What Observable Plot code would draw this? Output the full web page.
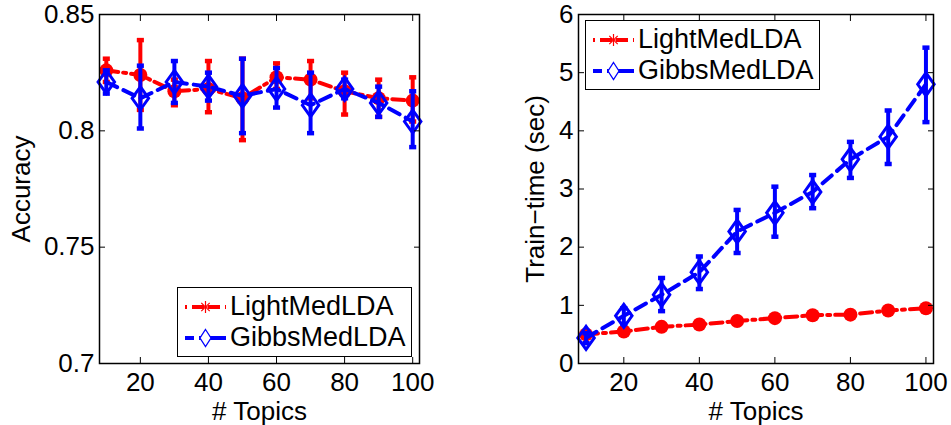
<!DOCTYPE html>
<html><head><meta charset="utf-8">
<script src="https://cdn.jsdelivr.net/npm/d3@7"></script>
<script src="https://cdn.jsdelivr.net/npm/@observablehq/plot@0.6"></script>
<style>
body{margin:0;background:#fff;font-family:"Liberation Sans",Arial,sans-serif;}
#wrap{position:relative;width:951px;height:425px;overflow:hidden;background:#fff;}
.panel{position:absolute;top:0;}
.legend{position:absolute;border:1.5px solid #000;background:#fff;box-sizing:border-box;font-size:27px;color:#000;padding-top:3px;}
.row{display:flex;align-items:center;height:31px;}
.row svg{margin-left:7px;margin-right:4px;flex:none;}
</style>
</head><body>
<div id="wrap"></div>
<script>
const topics = [10,20,30,40,50,60,70,80,90,100];
const xTicks = [20,40,60,80,100];
const accTicks = [0.7,0.75,0.8,0.85];
const timeTicks = [0,1,2,3,4,5,6];
const seriesNames = ["LightMedLDA","GibbsMedLDA"];
const seriesColors = ["#ff0000","#0000ff"];

const accLight   = [0.826,0.824,0.817,0.818,0.814,0.823,0.822,0.817,0.814,0.813];
const accLightLo = [0.821,0.809,0.811,0.808,0.796,0.818,0.814,0.807,0.806,0.804];
const accLightHi = [0.831,0.839,0.822,0.830,0.831,0.829,0.830,0.825,0.822,0.823];
const accGibbs   = [0.821,0.814,0.821,0.819,0.815,0.818,0.811,0.818,0.812,0.804];
const accGibbsLo = [0.816,0.801,0.812,0.813,0.799,0.810,0.799,0.814,0.806,0.793];
const accGibbsHi = [0.826,0.828,0.830,0.825,0.831,0.827,0.825,0.822,0.819,0.817];

const timeLight   = [0.50,0.55,0.63,0.67,0.73,0.78,0.83,0.84,0.91,0.95];
const timeLightLo = [0.48,0.53,0.61,0.65,0.71,0.76,0.81,0.82,0.89,0.93];
const timeLightHi = [0.52,0.57,0.65,0.69,0.75,0.80,0.85,0.86,0.93,0.97];
const timeGibbs   = [0.44,0.82,1.18,1.57,2.27,2.59,2.95,3.51,3.90,4.80];
const timeGibbsLo = [0.35,0.68,0.90,1.28,1.90,2.18,2.67,3.19,3.43,4.15];
const timeGibbsHi = [0.52,0.95,1.47,1.84,2.64,3.04,3.24,3.81,4.35,5.43];

const FONT = '"Liberation Sans", Arial, sans-serif';

const capSym = {draw(ctx, size){ const w = Math.sqrt(size); ctx.moveTo(-w,0); ctx.lineTo(w,0); }};
const diamondSym = {draw(ctx, size){ const s = Math.sqrt(size); const hw = s*0.8, hh = s*1.12;
  ctx.moveTo(0,-hh); ctx.lineTo(hw,0); ctx.lineTo(0,hh); ctx.lineTo(-hw,0); ctx.closePath(); }};

function rows(y, lo, hi){ return topics.map((t,i)=>({x:t, y:y[i], lo:lo[i], hi:hi[i]})); }

function seriesMarks(data, color, kind){
  const marks = [];
  marks.push(Plot.ruleX(data, {x:"x", y1:"lo", y2:"hi", stroke:color, strokeWidth:4}));
  marks.push(Plot.dot(data, {x:"x", y:"lo", symbol:capSym, r:2, stroke:color, strokeWidth:4.5}));
  marks.push(Plot.dot(data, {x:"x", y:"hi", symbol:capSym, r:2, stroke:color, strokeWidth:4.5}));
  if (kind === "light") {
    marks.push(Plot.line(data, {x:"x", y:"y", stroke:color, strokeWidth:4, strokeDasharray:"12,5,3,5"}));
    marks.push(Plot.dot(data, {x:"x", y:"y", r:7, fill:color, stroke:"none"}));
  } else {
    marks.push(Plot.line(data, {x:"x", y:"y", stroke:color, strokeWidth:4, strokeDasharray:"12,7"}));
    marks.push(Plot.dot(data, {x:"x", y:"y", symbol:diamondSym, r:5.8, stroke:color, fill:"none", strokeWidth:3}));
  }
  return marks;
}

function makePanel({width, marginLeft, marginRight, yDomain, yTicks, yFmt, yLabel, yLabelOffset, light, gibbs}){
  return Plot.plot({
    width, height:425, marginLeft, marginRight, marginTop:14, marginBottom:62,
    x:{domain:[8,102]},
    y:{domain:yDomain},
    style:{fontFamily:FONT, fontSize:"26px", color:"black", background:"transparent", overflow:"visible"},
    marks:[
      ...seriesMarks(light, seriesColors[0], "light"),
      ...seriesMarks(gibbs, seriesColors[1], "gibbs"),
      Plot.frame({stroke:"black", strokeWidth:1.5}),
      Plot.axisX({ticks:xTicks, tickSize:-6, tickPadding:15, fontSize:26, label:"# Topics", labelAnchor:"center", labelOffset:56, labelArrow:"none"}),
      Plot.axisX({anchor:"top", ticks:xTicks, tickSize:-6, tickFormat:()=>"", label:null}),
      Plot.axisY({ticks:yTicks, tickSize:-6, tickPadding:11, tickFormat:yFmt, fontSize:26, label:yLabel, labelAnchor:"center", labelOffset:yLabelOffset, labelArrow:"none"}),
      Plot.axisY({anchor:"right", ticks:yTicks, tickSize:-6, tickFormat:()=>"", label:null})
    ]
  });
}

const wrap = document.getElementById("wrap");

const left = makePanel({width:470, marginLeft:99, marginRight:51, yDomain:[0.7,0.85], yTicks:accTicks,
  yFmt:d=>String(+d.toFixed(2)), yLabel:"Accuracy", yLabelOffset:88,
  light:rows(accLight,accLightLo,accLightHi), gibbs:rows(accGibbs,accGibbsLo,accGibbsHi)});
left.classList.add("panel"); left.style.left = "0px";
wrap.appendChild(left);

const right = makePanel({width:476, marginLeft:103, marginRight:18, yDomain:[0,6], yTicks:timeTicks,
  yFmt:d=>String(d), yLabel:"Train\u2212time (sec)", yLabelOffset:53,
  light:rows(timeLight,timeLightLo,timeLightHi), gibbs:rows(timeGibbs,timeGibbsLo,timeGibbsHi)});
right.classList.add("panel"); right.style.left = "475px";
wrap.appendChild(right);

function legendRowSvg(i){
  const color = seriesColors[i];
  let marker;
  if (i === 0) {
    marker = `<g stroke="${color}" stroke-width="1.2">
      <line x1="20.5" y1="9" x2="20.5" y2="21"/><line x1="14.5" y1="15" x2="26.5" y2="15"/>
      <line x1="16.3" y1="10.8" x2="24.7" y2="19.2"/><line x1="16.3" y1="19.2" x2="24.7" y2="10.8"/></g>`;
    return `<svg width="41" height="30"><line x1="0" y1="15" x2="41" y2="15" stroke="${color}" stroke-width="4" stroke-dasharray="2,5,12,2,0,2,12,5,2"/>${marker}</svg>`;
  } else {
    marker = `<path d="M20.5,6.5L26,15L20.5,23.5L15,15Z" fill="#fff" stroke="${color}" stroke-width="1.3"/>`;
    return `<svg width="41" height="30"><line x1="0" y1="15" x2="41" y2="15" stroke="${color}" stroke-width="4" stroke-dasharray="9,5,27,5"/>${marker}</svg>`;
  }
}
function addLegend(x, y){
  const d = document.createElement("div");
  d.className = "legend";
  d.style.left = x+"px"; d.style.top = y+"px"; d.style.width = "235px"; d.style.height = "70px";
  d.innerHTML = seriesNames.map((n,i)=>`<div class="row">${legendRowSvg(i)}<span>${n}</span></div>`).join("");
  wrap.appendChild(d);
}
addLegend(177, 287);
addLegend(585, 20);
</script>
</body></html>
